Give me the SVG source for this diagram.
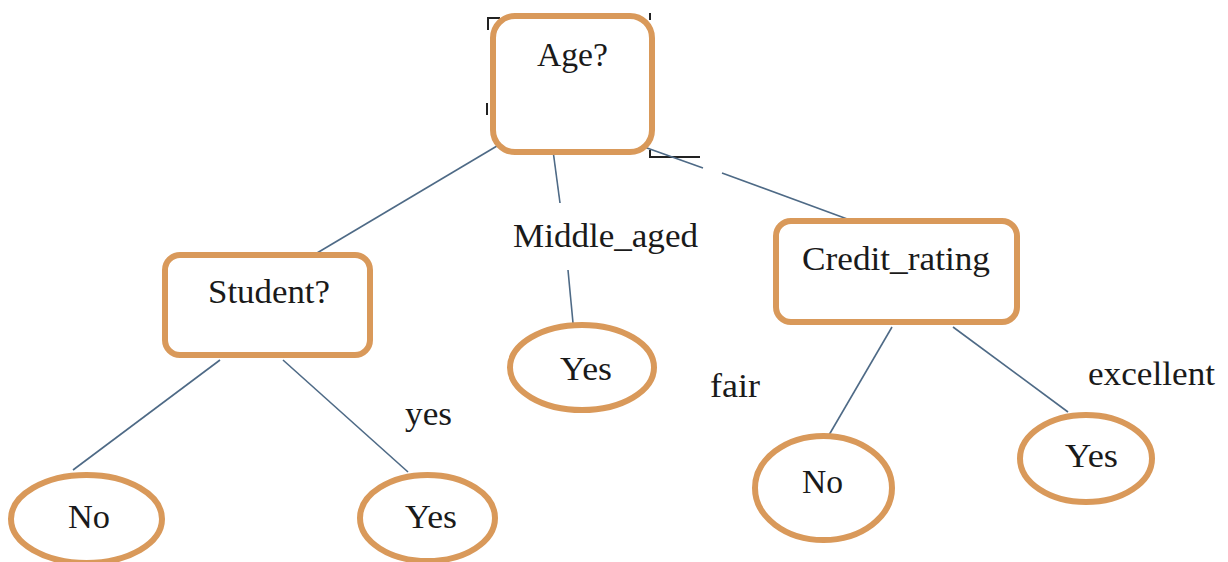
<svg xmlns="http://www.w3.org/2000/svg" width="1228" height="562" viewBox="0 0 1228 562">
<style>
.box{fill:#fff;stroke:#D9995A;stroke-width:6}
.leaf{fill:#fff;stroke:#D9995A;stroke-width:6}
.edge{stroke:#4E6A86;stroke-width:1.6;fill:none}
.mark{stroke:#222;stroke-width:2;fill:none}
text{font-family:"Liberation Serif","Times New Roman",serif;font-size:33px;fill:#1a1a1a}
</style>
<rect width="1228" height="562" fill="#fff"/>
<g id="artifacts">
<path class="mark" d="M488 30 V18 H500"/>
<path class="mark" d="M650 13 V20"/>
<path class="mark" d="M487 103 V115"/>
<path class="mark" d="M650 150 V157 H700"/>
</g>
<g id="connectors">
<line class="edge" x1="502" y1="143" x2="317" y2="253"/>
<line class="edge" x1="552" y1="143" x2="560" y2="203"/>
<line class="edge" x1="568" y1="270" x2="573" y2="323"/>
<line class="edge" x1="633" y1="143" x2="703" y2="168"/>
<line class="edge" x1="722" y1="173" x2="850" y2="220"/>
<line class="edge" x1="220" y1="360" x2="73" y2="470"/>
<line class="edge" x1="283" y1="360" x2="408" y2="472"/>
<line class="edge" x1="892" y1="327" x2="822" y2="447"/>
<line class="edge" x1="953" y1="327" x2="1068" y2="412"/>
</g>
<g id="labels">
<text x="513" y="247" textLength="185" lengthAdjust="spacingAndGlyphs">Middle_aged</text>
<text x="710" y="397" textLength="50" lengthAdjust="spacingAndGlyphs">fair</text>
<text x="1088" y="385" textLength="127" lengthAdjust="spacingAndGlyphs">excellent</text>
<text x="405" y="425" textLength="47" lengthAdjust="spacingAndGlyphs">yes</text>
</g>
<g id="node-age">
<rect class="box" x="493" y="16" width="159" height="136" rx="22"/>
<text x="537" y="66" textLength="71" lengthAdjust="spacingAndGlyphs">Age?</text>
</g>
<g id="node-student">
<rect class="box" x="165" y="255" width="205" height="100" rx="15"/>
<text x="208" y="303" textLength="122" lengthAdjust="spacingAndGlyphs">Student?</text>
</g>
<g id="node-credit">
<rect class="box" x="776" y="221" width="241" height="101" rx="15"/>
<text x="802" y="270" textLength="188" lengthAdjust="spacingAndGlyphs">Credit_rating</text>
</g>
<g id="leaf-student-no">
<ellipse class="leaf" cx="86.5" cy="519" rx="75.5" ry="44"/>
<text x="68" y="528" textLength="42" lengthAdjust="spacingAndGlyphs">No</text>
</g>
<g id="leaf-student-yes">
<ellipse class="leaf" cx="427.5" cy="518" rx="67.5" ry="43"/>
<text x="405" y="528" textLength="52" lengthAdjust="spacingAndGlyphs">Yes</text>
</g>
<g id="leaf-middle-yes">
<ellipse class="leaf" cx="582" cy="367.5" rx="72" ry="42.5"/>
<text x="560" y="380" textLength="52" lengthAdjust="spacingAndGlyphs">Yes</text>
</g>
<g id="leaf-credit-no">
<ellipse class="leaf" cx="823.5" cy="488" rx="68.5" ry="52"/>
<text x="802" y="493" textLength="41" lengthAdjust="spacingAndGlyphs">No</text>
</g>
<g id="leaf-credit-yes">
<ellipse class="leaf" cx="1086" cy="458.5" rx="66" ry="43.5"/>
<text x="1065" y="467" textLength="53" lengthAdjust="spacingAndGlyphs">Yes</text>
</g>
</svg>
